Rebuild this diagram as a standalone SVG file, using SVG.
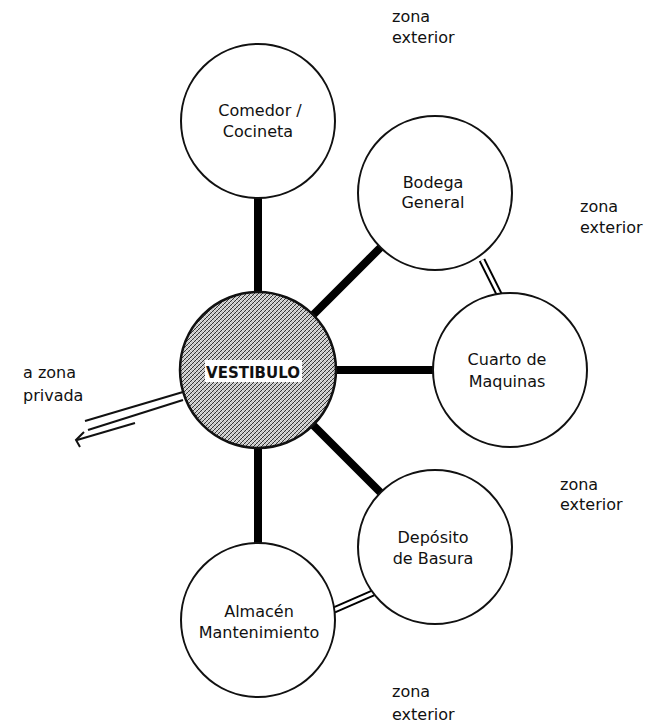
<svg xmlns="http://www.w3.org/2000/svg" width="662" height="726" viewBox="0 0 662 726">
<defs>
<pattern id="hatch" width="4" height="4" patternUnits="userSpaceOnUse">
<rect width="4" height="4" fill="#c4c4c4"/>
<path d="M0,4 L4,0 M-1,1 L1,-1 M3,5 L5,3" stroke="#222" stroke-width="0.9"/>
<path d="M0,0 L4,4" stroke="#ffffff" stroke-width="0.8" opacity="0.7"/>
</pattern>
</defs>
<style>
.node{fill:#fff;stroke:#111;stroke-width:2}
.lbl{font-family:"DejaVu Sans","Liberation Sans",sans-serif;font-size:16px;fill:#111;text-anchor:middle}
.zone{font-family:"DejaVu Sans","Liberation Sans",sans-serif;font-size:16px;fill:#111}
.thick{stroke:#000;stroke-width:8;fill:none}
.dblo{stroke:#000;stroke-width:7;fill:none}
.dbli{stroke:#fff;stroke-width:3;fill:none}
.thin{stroke:#111;stroke-width:2;fill:none}
</style>
<rect width="662" height="726" fill="#fff"/>
<g id="connectors">
<line class="thick" x1="258" y1="196" x2="258" y2="293"/>
<line class="thick" x1="312" y1="316" x2="381" y2="247"/>
<line class="thick" x1="335" y1="370" x2="433" y2="370"/>
<line class="thick" x1="312" y1="424" x2="381" y2="493"/>
<line class="thick" x1="258" y1="447" x2="258" y2="544"/>
<line class="dblo" x1="482" y1="260" x2="500" y2="296"/>
<line class="dbli" x1="482" y1="260" x2="500" y2="296"/>
<line class="dblo" x1="334" y1="610" x2="373" y2="593"/>
<line class="dbli" x1="334" y1="610" x2="373" y2="593"/>
<line class="thin" x1="183" y1="392" x2="85" y2="421"/>
<line class="thin" x1="183" y1="400" x2="88" y2="430"/>
<line class="thin" x1="135" y1="423" x2="77" y2="440"/>
<path class="thin" d="M84,432 L76,440 L80,447"/>
</g>
<g id="comedor">
<circle class="node" cx="258" cy="121" r="77"/>
<text class="lbl" x="260" y="116">Comedor /</text>
<text class="lbl" x="258" y="137">Cocineta</text>
</g>
<g id="bodega">
<circle class="node" cx="435" cy="193" r="77"/>
<text class="lbl" x="433" y="188">Bodega</text>
<text class="lbl" x="433" y="208">General</text>
</g>
<g id="cuarto">
<circle class="node" cx="510" cy="370" r="77"/>
<text class="lbl" x="507" y="365">Cuarto de</text>
<text class="lbl" x="507" y="387">Maquinas</text>
</g>
<g id="deposito">
<circle class="node" cx="435" cy="547" r="77"/>
<text class="lbl" x="433" y="543">Depósito</text>
<text class="lbl" x="433" y="564">de Basura</text>
</g>
<g id="almacen">
<circle class="node" cx="258" cy="620" r="77"/>
<text class="lbl" x="259" y="617">Almacén</text>
<text class="lbl" x="259" y="638">Mantenimiento</text>
</g>
<g id="vestibulo">
<circle cx="258" cy="370" r="78" fill="url(#hatch)" stroke="#111" stroke-width="2.5"/>
<rect x="205" y="360" width="97" height="22" fill="#fff"/>
<text x="253" y="378" font-family="DejaVu Sans, Liberation Sans, sans-serif" font-size="15" font-weight="bold" fill="#111" text-anchor="middle">VESTIBULO</text>
</g>
<g id="labels">
<text class="zone" x="392" y="22">zona</text>
<text class="zone" x="392" y="43">exterior</text>
<text class="zone" x="580" y="212">zona</text>
<text class="zone" x="580" y="233">exterior</text>
<text class="zone" x="560" y="490">zona</text>
<text class="zone" x="560" y="510">exterior</text>
<text class="zone" x="392" y="697">zona</text>
<text class="zone" x="392" y="720">exterior</text>
<text class="zone" x="23" y="378">a zona</text>
<text class="zone" x="23" y="401">privada</text>
</g>
</svg>
